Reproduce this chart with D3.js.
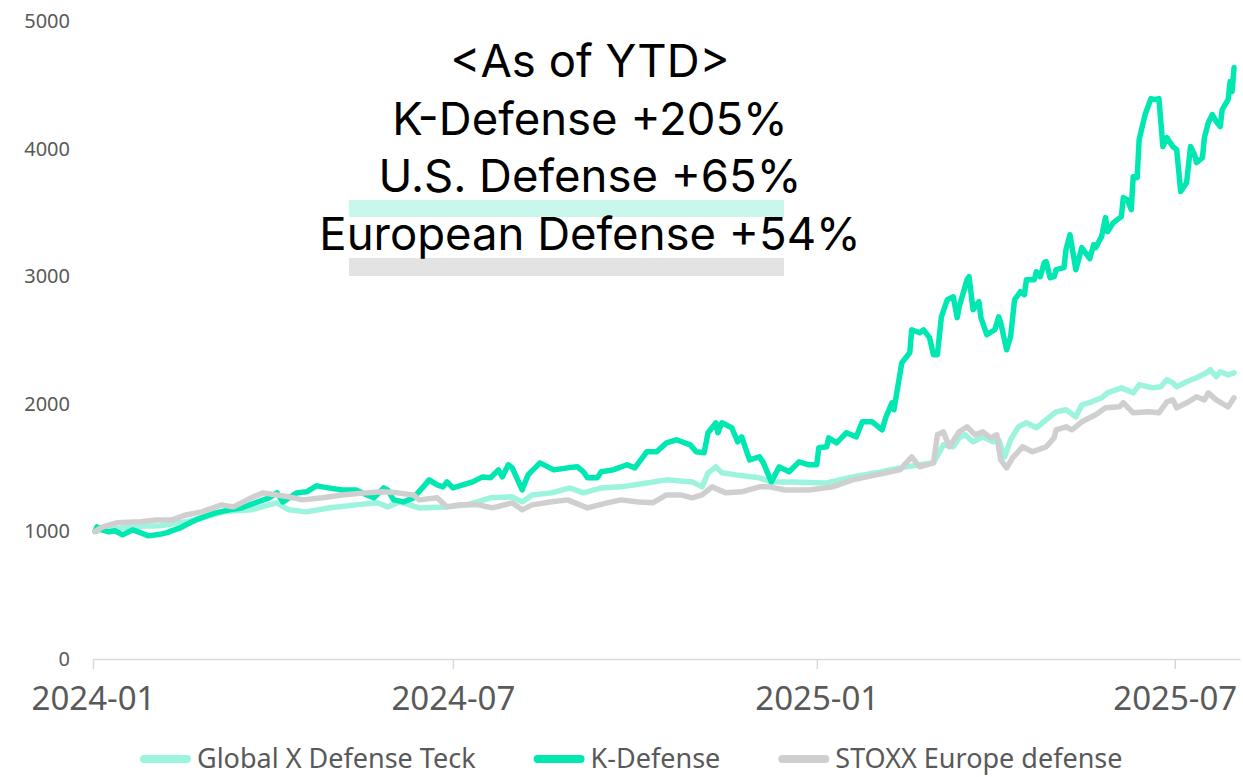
<!DOCTYPE html>
<html>
<head>
<meta charset="utf-8">
<script src="https://cdn.jsdelivr.net/npm/d3@7"></script>
<style>
  html, body { margin: 0; padding: 0; background: #fff; }
  svg { display: block; }
</style>
</head>
<body>
<svg id="chart" width="1243" height="777"></svg>
<script>
// index values, base 1000 at 2024-01-02
var globalX = [
  ["2024-01-02", 1000], ["2024-01-06", 1010], ["2024-01-16", 1027], ["2024-01-25", 1040],
  ["2024-02-04", 1045], ["2024-02-17", 1075], ["2024-02-26", 1110], ["2024-03-07", 1153],
  ["2024-03-21", 1169], ["2024-03-28", 1200], ["2024-04-03", 1224], ["2024-04-09", 1169],
  ["2024-04-18", 1153], ["2024-04-29", 1184], ["2024-05-13", 1208], ["2024-05-24", 1224],
  ["2024-05-29", 1192], ["2024-06-04", 1231], ["2024-06-14", 1184], ["2024-06-27", 1192],
  ["2024-07-08", 1208], ["2024-07-20", 1263], ["2024-07-31", 1271], ["2024-08-05", 1231],
  ["2024-08-10", 1286], ["2024-08-20", 1302], ["2024-08-29", 1341], ["2024-09-05", 1302],
  ["2024-09-14", 1341], ["2024-09-24", 1349], ["2024-10-07", 1380], ["2024-10-17", 1404],
  ["2024-10-30", 1388], ["2024-11-04", 1349], ["2024-11-07", 1459], ["2024-11-11", 1506],
  ["2024-11-14", 1459], ["2024-11-21", 1443], ["2024-12-03", 1420], ["2024-12-09", 1388],
  ["2024-12-19", 1388], ["2025-01-06", 1380], ["2025-01-19", 1427], ["2025-01-31", 1459],
  ["2025-02-12", 1498], ["2025-02-22", 1522], ["2025-03-01", 1537], ["2025-03-06", 1678],
  ["2025-03-11", 1663], ["2025-03-14", 1733], ["2025-03-17", 1757], ["2025-03-21", 1702],
  ["2025-03-26", 1741], ["2025-03-31", 1702], ["2025-04-03", 1718], ["2025-04-06", 1584],
  ["2025-04-09", 1718], ["2025-04-13", 1820], ["2025-04-17", 1851], ["2025-04-22", 1812],
  ["2025-04-27", 1875], ["2025-05-02", 1937], ["2025-05-07", 1953], ["2025-05-12", 1898],
  ["2025-05-15", 1992], ["2025-05-20", 2016], ["2025-05-25", 2047], ["2025-05-28", 2086],
  ["2025-06-04", 2125], ["2025-06-10", 2086], ["2025-06-13", 2149], ["2025-06-20", 2125],
  ["2025-06-24", 2133], ["2025-06-27", 2188], ["2025-06-30", 2165], ["2025-07-02", 2133],
  ["2025-07-07", 2173], ["2025-07-12", 2204], ["2025-07-17", 2243], ["2025-07-19", 2267],
  ["2025-07-22", 2212], ["2025-07-24", 2251], ["2025-07-28", 2227], ["2025-07-31", 2243]
];

var kDefense = [
  ["2024-01-02", 1000], ["2024-01-03", 1035], ["2024-01-06", 1010], ["2024-01-09", 996],
  ["2024-01-12", 1005], ["2024-01-16", 973], ["2024-01-21", 1012], ["2024-01-25", 990],
  ["2024-01-29", 965], ["2024-02-03", 975], ["2024-02-07", 988], ["2024-02-14", 1027],
  ["2024-02-18", 1060], ["2024-02-22", 1090], ["2024-02-27", 1120], ["2024-03-03", 1145],
  ["2024-03-10", 1169], ["2024-03-16", 1184], ["2024-03-23", 1224], ["2024-03-30", 1263],
  ["2024-04-03", 1302], ["2024-04-06", 1231], ["2024-04-13", 1302], ["2024-04-18", 1310],
  ["2024-04-23", 1357], ["2024-04-29", 1341], ["2024-05-06", 1325], ["2024-05-13", 1325],
  ["2024-05-18", 1290], ["2024-05-22", 1263], ["2024-05-27", 1341], ["2024-05-29", 1325],
  ["2024-06-01", 1247], ["2024-06-06", 1231], ["2024-06-11", 1263], ["2024-06-16", 1349],
  ["2024-06-19", 1404], ["2024-06-23", 1365], ["2024-06-26", 1349], ["2024-06-28", 1388],
  ["2024-07-01", 1341], ["2024-07-06", 1365], ["2024-07-11", 1388], ["2024-07-16", 1427],
  ["2024-07-20", 1420], ["2024-07-24", 1482], ["2024-07-26", 1427], ["2024-07-29", 1522],
  ["2024-07-31", 1498], ["2024-08-05", 1325], ["2024-08-08", 1443], ["2024-08-14", 1537],
  ["2024-08-21", 1482], ["2024-08-28", 1498], ["2024-09-02", 1506], ["2024-09-05", 1467],
  ["2024-09-07", 1420], ["2024-09-12", 1420], ["2024-09-14", 1467], ["2024-09-20", 1482],
  ["2024-09-27", 1522], ["2024-10-01", 1498], ["2024-10-07", 1624], ["2024-10-12", 1624],
  ["2024-10-17", 1694], ["2024-10-22", 1718], ["2024-10-29", 1678], ["2024-11-01", 1624],
  ["2024-11-05", 1616], ["2024-11-07", 1773], ["2024-11-11", 1851], ["2024-11-12", 1773],
  ["2024-11-14", 1851], ["2024-11-19", 1812], ["2024-11-22", 1702], ["2024-11-24", 1741],
  ["2024-11-28", 1561], ["2024-12-03", 1584], ["2024-12-05", 1537], ["2024-12-09", 1388],
  ["2024-12-13", 1506], ["2024-12-18", 1467], ["2024-12-23", 1545], ["2024-12-28", 1522],
  ["2025-01-01", 1522], ["2025-01-02", 1655], ["2025-01-06", 1663], ["2025-01-07", 1733],
  ["2025-01-11", 1694], ["2025-01-16", 1773], ["2025-01-21", 1741], ["2025-01-24", 1859],
  ["2025-01-29", 1859], ["2025-02-03", 1796], ["2025-02-05", 1898], ["2025-02-08", 2008],
  ["2025-02-09", 1953], ["2025-02-13", 2322], ["2025-02-17", 2400], ["2025-02-18", 2580],
  ["2025-02-22", 2557], ["2025-02-24", 2580], ["2025-02-27", 2518], ["2025-03-01", 2384],
  ["2025-03-03", 2384], ["2025-03-05", 2682], ["2025-03-08", 2816], ["2025-03-11", 2839],
  ["2025-03-13", 2675], ["2025-03-14", 2761], ["2025-03-18", 2973], ["2025-03-19", 2996],
  ["2025-03-21", 2737], ["2025-03-24", 2800], ["2025-03-25", 2675], ["2025-03-28", 2541],
  ["2025-04-01", 2580], ["2025-04-03", 2682], ["2025-04-04", 2635], ["2025-04-07", 2424],
  ["2025-04-09", 2525], ["2025-04-11", 2816], ["2025-04-14", 2878], ["2025-04-16", 2855],
  ["2025-04-17", 2973], ["2025-04-21", 2973], ["2025-04-22", 3035], ["2025-04-24", 2996],
  ["2025-04-26", 3106], ["2025-04-27", 3114], ["2025-04-29", 2988], ["2025-05-01", 2996],
  ["2025-05-02", 3051], ["2025-05-06", 3067], ["2025-05-07", 3208], ["2025-05-09", 3325],
  ["2025-05-12", 3051], ["2025-05-15", 3224], ["2025-05-19", 3137], ["2025-05-21", 3247],
  ["2025-05-22", 3224], ["2025-05-25", 3310], ["2025-05-27", 3459], ["2025-05-28", 3349],
  ["2025-05-31", 3420], ["2025-06-04", 3467], ["2025-06-05", 3616], ["2025-06-07", 3600],
  ["2025-06-09", 3522], ["2025-06-10", 3780], ["2025-06-12", 3773], ["2025-06-13", 4071],
  ["2025-06-16", 4267], ["2025-06-19", 4392], ["2025-06-21", 4384], ["2025-06-23", 4392],
  ["2025-06-25", 4016], ["2025-06-27", 4086], ["2025-06-30", 4016], ["2025-07-02", 3992],
  ["2025-07-04", 3663], ["2025-07-07", 3733], ["2025-07-09", 4016], ["2025-07-11", 3953],
  ["2025-07-12", 3890], ["2025-07-15", 3929], ["2025-07-16", 4086], ["2025-07-18", 4204],
  ["2025-07-20", 4267], ["2025-07-22", 4212], ["2025-07-24", 4173], ["2025-07-25", 4306],
  ["2025-07-28", 4384], ["2025-07-29", 4525], ["2025-07-30", 4447], ["2025-07-31", 4635]
];

var stoxx = [
  ["2024-01-02", 1000], ["2024-01-06", 1035], ["2024-01-13", 1067], ["2024-01-25", 1075],
  ["2024-02-02", 1090], ["2024-02-10", 1090], ["2024-02-17", 1129], ["2024-02-25", 1153],
  ["2024-03-06", 1208], ["2024-03-12", 1192], ["2024-03-21", 1263], ["2024-03-27", 1302],
  ["2024-04-03", 1286], ["2024-04-09", 1271], ["2024-04-16", 1247], ["2024-04-26", 1263],
  ["2024-05-06", 1286], ["2024-05-18", 1302], ["2024-05-26", 1310], ["2024-06-03", 1302],
  ["2024-06-11", 1286], ["2024-06-14", 1247], ["2024-06-23", 1263], ["2024-06-28", 1192],
  ["2024-07-04", 1208], ["2024-07-14", 1208], ["2024-07-21", 1184], ["2024-07-31", 1224],
  ["2024-08-05", 1169], ["2024-08-10", 1208], ["2024-08-19", 1231], ["2024-08-28", 1247],
  ["2024-09-07", 1184], ["2024-09-17", 1224], ["2024-09-24", 1247], ["2024-10-03", 1231],
  ["2024-10-10", 1224], ["2024-10-17", 1286], ["2024-10-24", 1286], ["2024-10-30", 1263],
  ["2024-11-04", 1286], ["2024-11-09", 1349], ["2024-11-16", 1302], ["2024-11-24", 1310],
  ["2024-12-03", 1349], ["2024-12-08", 1349], ["2024-12-16", 1325], ["2024-12-28", 1325],
  ["2025-01-09", 1349], ["2025-01-19", 1404], ["2025-01-31", 1443], ["2025-02-12", 1482],
  ["2025-02-18", 1584], ["2025-02-22", 1506], ["2025-03-01", 1537], ["2025-03-03", 1757],
  ["2025-03-06", 1780], ["2025-03-09", 1663], ["2025-03-14", 1780], ["2025-03-18", 1820],
  ["2025-03-22", 1757], ["2025-03-26", 1780], ["2025-03-30", 1733], ["2025-04-02", 1757],
  ["2025-04-04", 1561], ["2025-04-07", 1498], ["2025-04-10", 1576], ["2025-04-15", 1663],
  ["2025-04-20", 1624], ["2025-04-27", 1663], ["2025-05-01", 1733], ["2025-05-02", 1796],
  ["2025-05-07", 1820], ["2025-05-10", 1796], ["2025-05-15", 1859], ["2025-05-22", 1914],
  ["2025-05-27", 1969], ["2025-06-03", 1976], ["2025-06-05", 2008], ["2025-06-10", 1929],
  ["2025-06-18", 1937], ["2025-06-23", 1929], ["2025-06-27", 2016], ["2025-06-30", 2031],
  ["2025-07-02", 1969], ["2025-07-07", 2008], ["2025-07-12", 2055], ["2025-07-16", 2031],
  ["2025-07-18", 2086], ["2025-07-22", 2031], ["2025-07-28", 1976], ["2025-07-31", 2047]
];

var seriesNames = ["Global X Defense Teck", "K-Defense", "STOXX Europe defense"];
var seriesColors = ["#9cf4df", "#00e8b2", "#cfcfcf"];
var yTicks = [0, 1000, 2000, 3000, 4000, 5000];
var xTicks = ["2024-01-01", "2024-07-01", "2025-01-01", "2025-07-01"];
var noteLines = ["<As of YTD>", "K-Defense +205%", "U.S. Defense +65%", "European Defense +54%"];

var parse = d3.timeParse("%Y-%m-%d");
var svg = d3.select("#chart");

var x = d3.scaleTime()
      .domain([parse("2024-01-01"), parse("2025-08-03")])
      .range([93, 1240]);
var y = d3.scaleLinear()
      .domain([0, 5000])
      .range([659, 21]);

// y axis labels (no line)
var yAxis = svg.append('g')
      .attr('transform', 'translate(70,0)')
      .call(d3.axisLeft(y).tickValues(yTicks).tickSize(0).tickPadding(0).tickFormat(d3.format('d')));
yAxis.select('.domain').remove();
yAxis.selectAll('text')
      .attr('fill', '#595959')
      .style('font-family', '"Noto Sans", sans-serif')
      .style('font-size', '20px');

// x axis
var xAxis = svg.append('g')
      .attr('transform', 'translate(0,659)')
      .call(d3.axisBottom(x)
            .tickValues(xTicks.map(parse))
            .tickFormat(d3.timeFormat('%Y-%m'))
            .tickSize(10).tickSizeOuter(0).tickPadding(18));
xAxis.select('.domain').attr('stroke', '#d9d9d9').attr('stroke-width', 1.5);
xAxis.selectAll('line').attr('stroke', '#d9d9d9').attr('stroke-width', 1.5);
xAxis.selectAll('text')
      .attr('fill', '#595959')
      .style('font-family', '"Noto Sans", sans-serif')
      .style('font-size', '33px');

// highlight bars behind the note
svg.append('rect')
      .attr('x', 349).attr('y', 200).attr('width', 435).attr('height', 17)
      .attr('fill', '#c9f7ec');
svg.append('rect')
      .attr('x', 349).attr('y', 258).attr('width', 435).attr('height', 18)
      .attr('fill', '#e3e3e3');

// lines
var line = d3.line()
      .x(function(d) { return x(parse(d[0])); })
      .y(function(d) { return y(d[1]); });

[globalX, kDefense, stoxx].forEach(function(s, i) {
  svg.append('path')
        .datum(s)
        .attr('fill', 'none')
        .attr('stroke', seriesColors[i])
        .attr('stroke-width', 5.5)
        .attr('stroke-linejoin', 'round')
        .attr('stroke-linecap', 'round')
        .attr('d', line);
});

// note text
var note = svg.append('g')
      .style('font-family', 'Inter, "Noto Sans", sans-serif')
      .style('font-size', '45.5px')
      .attr('fill', '#000')
      .attr('text-anchor', 'middle');
noteLines.forEach(function(t, i) {
  note.append('text')
        .attr('x', 590)
        .attr('y', 77 + i * 57.5)
        .text(t);
});

// legend
var legend = svg.append('g')
      .style('font-family', '"Noto Sans", sans-serif')
      .style('font-size', '27px');
var lx = 140;
seriesNames.forEach(function(name, i) {
  legend.append('line')
        .attr('x1', lx + 4).attr('x2', lx + 47)
        .attr('y1', 759).attr('y2', 759)
        .attr('stroke', seriesColors[i])
        .attr('stroke-width', 8)
        .attr('stroke-linecap', 'round');
  var t = legend.append('text')
        .attr('x', lx + 57)
        .attr('y', 768)
        .attr('fill', '#595959')
        .text(name);
  lx = lx + 57 + t.node().getComputedTextLength() + 58;
});
</script>
</body>
</html>
